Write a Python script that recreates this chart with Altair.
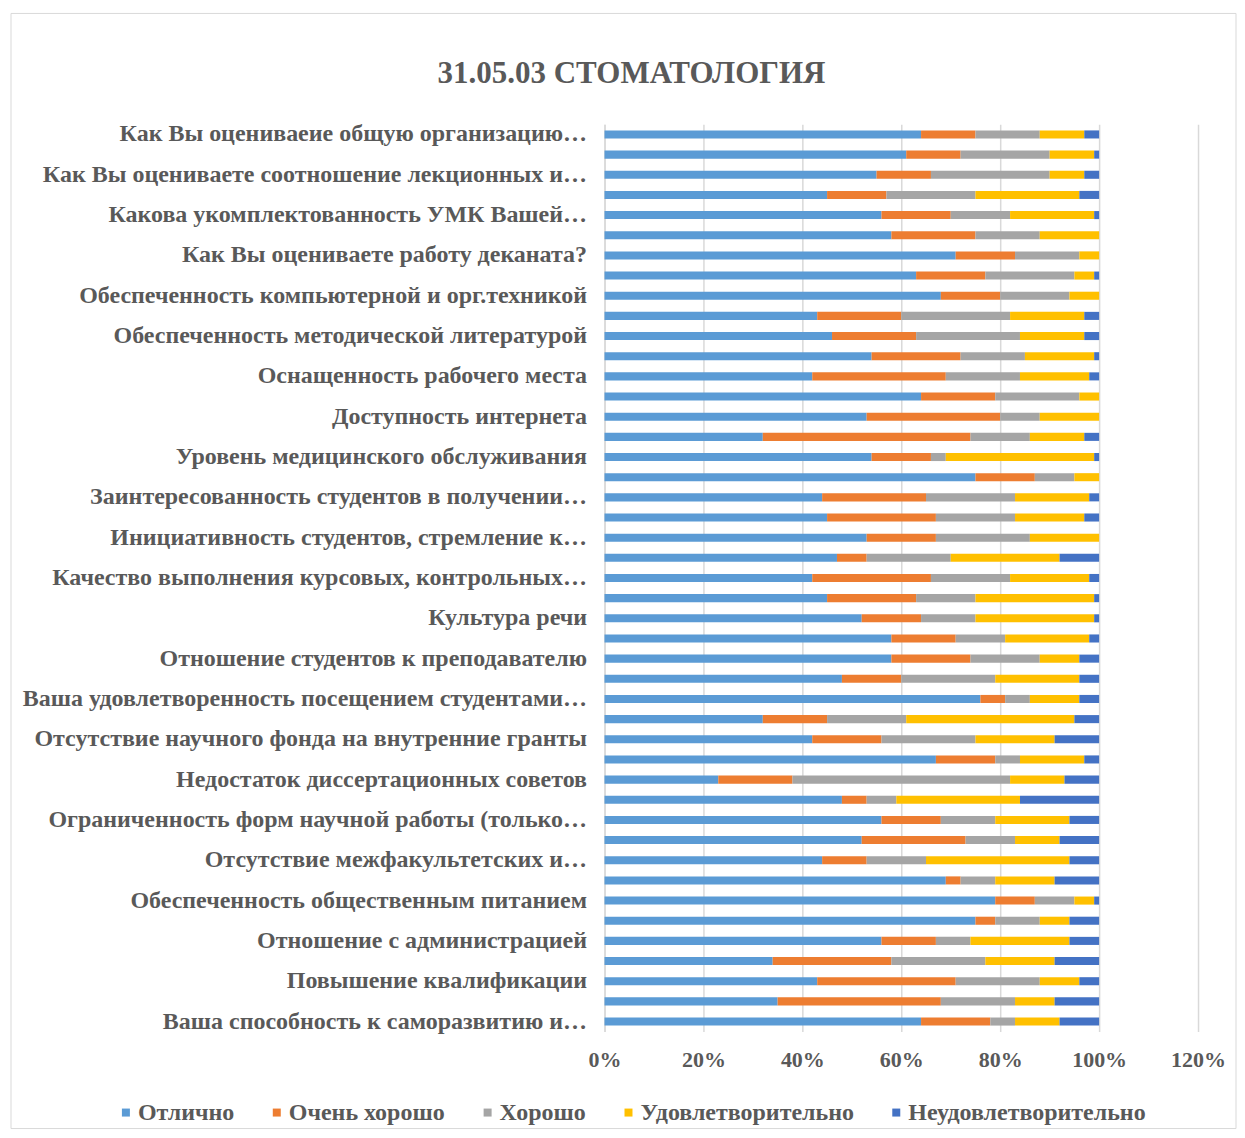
import altair as alt
import pandas as pd

categories = [
    "Как Вы оцениваеие общую организацию…", "",
    "Как Вы оцениваете соотношение лекционных и…", "",
    "Какова укомплектованность УМК Вашей…", "",
    "Как Вы оцениваете работу деканата?", "",
    "Обеспеченность компьютерной и орг.техникой", "",
    "Обеспеченность методической литературой", "",
    "Оснащенность рабочего места", "",
    "Доступность интернета", "",
    "Уровень медицинского обслуживания", "",
    "Заинтересованность студентов в получении…", "",
    "Инициативность студентов, стремление к…", "",
    "Качество выполнения курсовых, контрольных…", "",
    "Культура речи", "",
    "Отношение студентов к преподавателю", "",
    "Ваша удовлетворенность посещением студентами…", "",
    "Отсутствие научного фонда на внутренние гранты", "",
    "Недостаток диссертационных советов", "",
    "Ограниченность форм научной работы (только…", "",
    "Отсутствие межфакультетских и…", "",
    "Обеспеченность общественным питанием", "",
    "Отношение с администрацией", "",
    "Повышение квалификации", "",
    "Ваша способность к саморазвитию и…",
]

series = ["Отлично", "Очень хорошо", "Хорошо", "Удовлетворительно", "Неудовлетворительно"]
colors = ["#5B9BD5", "#ED7D31", "#A5A5A5", "#FFC000", "#4472C4"]

otlichno = [64, 61, 55, 45, 56, 58, 71, 63, 68, 43, 46, 54, 42, 64, 53, 32, 54, 75, 44, 45, 53, 47, 42,
            45, 52, 58, 58, 48, 76, 32, 42, 67, 23, 48, 56, 52, 44, 69, 79, 75, 56, 34, 43, 35, 64]
ochen_khorosho = [11, 11, 11, 12, 14, 17, 12, 14, 12, 17, 17, 18, 27, 15, 27, 42, 12, 12, 21, 22, 14, 6, 24,
                  18, 12, 13, 16, 12, 5, 13, 14, 12, 15, 5, 12, 21, 9, 3, 8, 4, 11, 24, 28, 33, 14]
khorosho = [13, 18, 24, 18, 12, 13, 13, 18, 14, 22, 21, 13, 15, 17, 8, 12, 3, 8, 18, 16, 19, 17, 16,
            12, 11, 10, 14, 19, 5, 16, 19, 5, 44, 6, 11, 10, 12, 7, 8, 9, 7, 19, 17, 15, 5]
udovl = [9, 9, 7, 21, 17, 12, 4, 4, 6, 15, 13, 14, 14, 4, 12, 11, 30, 5, 15, 14, 14, 22, 16,
         24, 24, 17, 8, 17, 10, 34, 16, 13, 11, 25, 15, 9, 29, 12, 4, 6, 20, 14, 8, 8, 9]
neudovl = [3, 1, 3, 4, 1, 0, 0, 1, 0, 3, 3, 1, 2, 0, 0, 3, 1, 0, 2, 3, 0, 8, 2,
           1, 1, 2, 4, 4, 4, 5, 9, 3, 7, 16, 6, 8, 6, 9, 1, 6, 6, 9, 4, 9, 8]

values = [otlichno, ochen_khorosho, khorosho, udovl, neudovl]
rows = []
for i in range(len(categories)):
    total = sum(v[i] for v in values)
    for s_idx, (name, vals) in enumerate(zip(series, values)):
        rows.append({"idx": i, "series": name, "order": s_idx, "value": vals[i] / total})
df = pd.DataFrame(rows)

label_expr = "[" + ",".join("'" + c + "'" for c in categories) + "][datum.value]"

FONT = "Liberation Serif"
GREY = "#595959"

bars = alt.Chart(df).mark_bar().encode(
    x=alt.X("value:Q", stack="zero",
            scale=alt.Scale(domain=[0, 1.2], nice=False),
            axis=alt.Axis(format="%", values=[0, 0.2, 0.4, 0.6, 0.8, 1.0, 1.2], title=None,
                          ticks=False, domain=False, labelPadding=18, labelFlush=False,
                          labelFont=FONT, labelFontSize=22, labelFontWeight="bold", labelColor=GREY,
                          gridColor="#d9d9d9", gridWidth=1.5)),
    y=alt.Y("idx:O", sort="ascending",
            scale=alt.Scale(paddingInner=0.6, paddingOuter=0.3),
            axis=alt.Axis(labelExpr=label_expr, title=None, ticks=False, grid=False,
                          domainColor="#d9d9d9", domainWidth=1.5, labelPadding=18, labelLimit=700,
                          labelFont=FONT, labelFontSize=24, labelFontWeight="bold", labelColor=GREY)),
    color=alt.Color("series:N", sort=series,
                    scale=alt.Scale(domain=series, range=colors),
                    legend=alt.Legend(title=None, orient="none", direction="horizontal",
                                      legendX=-491, legendY=977,
                                      symbolType="square", symbolSize=64, symbolStrokeWidth=0,
                                      labelFont=FONT, labelFontSize=24, labelFontWeight="bold",
                                      labelColor=GREY, columnPadding=30, labelOffset=0,
                                      labelLimit=400)),
    order=alt.Order("order:Q", sort="ascending"),
)

frame = alt.Chart(pd.DataFrame({"a": [0]})).mark_rect(
    filled=False, stroke="#d9d9d9", strokeWidth=1
).encode(
    x=alt.value(-594), x2=alt.value(632), y=alt.value(-111), y2=alt.value(1005)
)

chart = alt.layer(bars, frame).properties(
    width=594,
    height=908,
    title=alt.TitleParams("31.05.03 СТОМАТОЛОГИЯ", font=FONT, fontSize=31, fontWeight="bold",
                          color=GREY, anchor="middle", frame="bounds", offset=-77, dx=8),
    padding={"top": 4, "left": 2, "right": 0, "bottom": 0},
).configure_view(stroke=None)

chart.save("out.html", embed_options={"renderer": "svg", "actions": False})
